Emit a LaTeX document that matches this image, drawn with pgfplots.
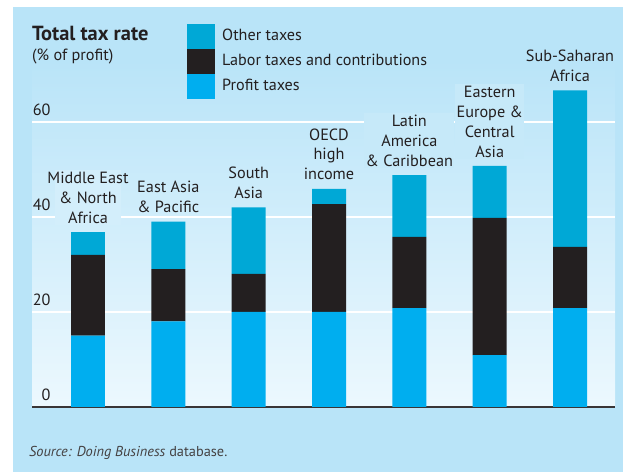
\documentclass[border=0pt]{standalone}
\usepackage{fontspec}
\setmainfont{PT Sans}
\usepackage{pgfplots}
\pgfplotsset{compat=1.18}
\definecolor{panel}{RGB}{185,228,248}
\definecolor{gradbot}{RGB}{236,248,254}
\definecolor{othc}{RGB}{0,168,214}
\definecolor{labc}{RGB}{35,31,32}
\definecolor{proc}{RGB}{0,174,239}
\definecolor{txt}{RGB}{35,31,32}
\definecolor{maskA}{RGB}{211,238,251}
\definecolor{maskB}{RGB}{198,233,249}
\tikzset{lab/.style={anchor=south, align=center, font=\fontsize{16.3}{20}\selectfont, text=txt, inner sep=1.5bp, yshift=7bp}}
\begin{document}
\begin{tikzpicture}[x=1bp,y=1bp]
\fill[white] (0,0) rectangle (623,472);
\fill[panel] (13,0) rectangle (623,465);
\shade[top color=panel, bottom color=gradbot] (32,65) rectangle (615,412);
\node[anchor=base west, font=\bfseries\fontsize{20.5}{24}\selectfont, text=txt, inner sep=0] at (32,431) {Total tax rate};
\node[anchor=base west, font=\fontsize{16.3}{19}\selectfont, text=txt, inner sep=0] at (32,411) {(\% of profit)};
\node[anchor=base west, font=\fontsize{14.4}{17}\selectfont, text=txt!85, inner sep=0] at (29,15) {\textit{Source: Doing Business} database.};
\begin{axis}[
  at={(32bp,65bp)}, anchor=south west, scale only axis, width=583bp, height=347bp,
  xmin=-0.697, xmax=6.56, ymin=0, ymax=73,
  ybar stacked, bar width=0.423,
  axis x line=bottom, axis y line=left,
  x axis line style={-, line width=1.6bp, color=labc!90},
  y axis line style={draw=none},
  xtick=\empty, ytick={0,20,40,60}, major tick length=0pt,
  ymajorgrids, grid style={white, line width=1.5bp},
  yticklabel style={anchor=south east, xshift=22bp, yshift=3bp, font=\fontsize{16.3}{19}\selectfont, text=txt},
  /pgf/number format/assume math mode=true,
  legend style={at={(0.2659,1.1037)}, anchor=north west, draw=none, fill=none, inner sep=0pt, row sep=0pt, column sep=7bp, font=\fontsize{16.2}{19}\selectfont, text=txt, nodes={inner sep=0pt, text height=11bp, text depth=3bp}},
  legend cell align=left,
  legend image code/.code={\fill[#1] (0bp,-13bp) rectangle (28bp,12bp);},
  reverse legend,
  clip=false,
]
\addplot[fill=proc, draw=none] coordinates {(0,15) (1,18) (2,20) (3,20) (4,20.8) (5,10.9) (6,20.8)};
\addlegendentry{Profit taxes}
\addplot[fill=labc, draw=none] coordinates {(0,17) (1,11) (2,8) (3,22.7) (4,15) (5,28.9) (6,12.9)};
\addlegendentry{Labor taxes and contributions}
\addplot[fill=othc, draw=none] coordinates {(0,4.8) (1,10) (2,14) (3,3.2) (4,13) (5,10.9) (6,32.9)};
\addlegendentry{Other taxes}
\node[lab, fill=maskA, inner xsep=-8bp] at (axis cs:0,36.8) {Middle East\\\& North\\Africa};
\node[lab] at (axis cs:1,39) {East Asia\\\& Pacific};
\node[lab] at (axis cs:2,42) {South\\Asia};
\node[lab] at (axis cs:3,45.9) {OECD\\high\\income};
\node[lab, fill=maskB] at (axis cs:4,48.8) {Latin\\America\\\& Caribbean};
\node[lab, fill=maskB] at (axis cs:5,50.7) {Eastern\\Europe \&\\Central\\Asia};
\node[lab] at (axis cs:6,66.6) {Sub-Saharan\\Africa};
\end{axis}
\end{tikzpicture}
\end{document}
